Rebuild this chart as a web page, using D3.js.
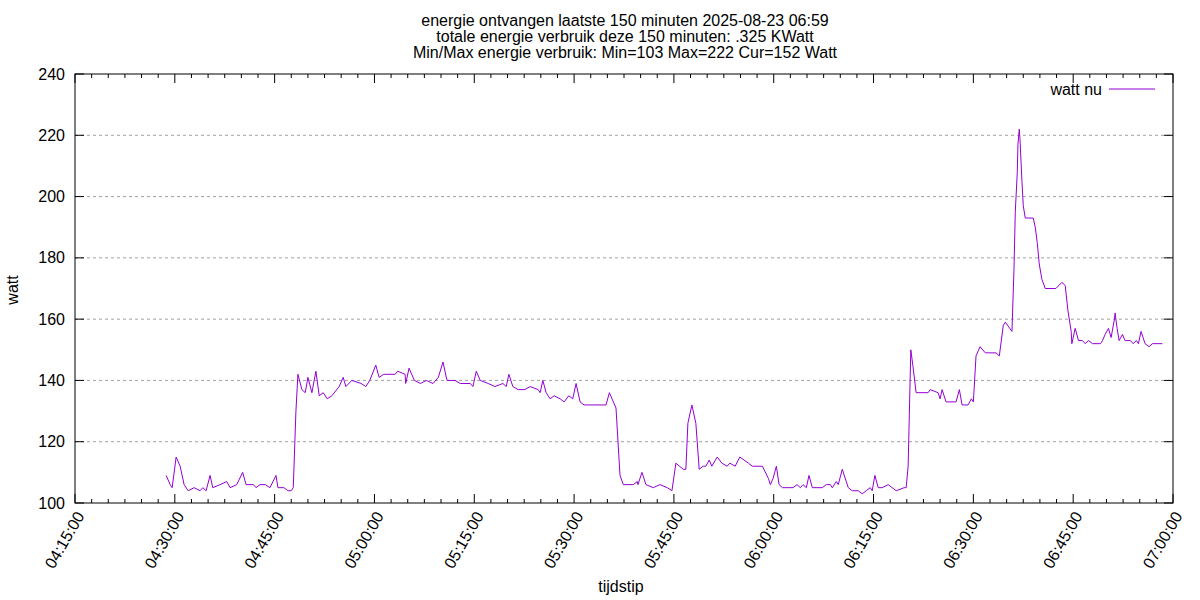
<!DOCTYPE html>
<html>
<head>
<meta charset="utf-8">
<script src="https://cdn.jsdelivr.net/npm/d3@7"></script>
<style>
  body { margin: 0; background: #fff; }
  text { font-family: "Liberation Sans", Arial, sans-serif; }
</style>
</head>
<body>
<div id="chart"></div>
<script>
// minutes after 04:15:00 and measured power in watt
const minutes = [13.7,14.3,14.6,15.2,15.8,16.4,17.0,17.9,18.8,19.2,19.7,20.3,20.7,21.8,22.8,23.3,24.3,25.2,25.7,26.8,27.2,27.8,28.6,29.3,30.2,30.5,31.4,32.0,32.5,32.8,33.2,33.5,34.1,34.6,35.0,35.6,36.2,36.7,37.3,37.9,38.6,39.7,40.3,40.7,41.6,43.0,43.7,44.3,45.2,45.7,46.4,48.1,48.5,49.6,49.7,50.2,51.0,51.9,52.8,53.8,54.6,55.3,55.9,57.1,57.9,59.4,59.8,60.3,60.9,62.1,63.1,64.3,64.8,65.2,65.8,66.6,67.6,68.4,69.6,69.9,70.3,70.8,71.4,72.0,72.9,73.5,74.2,74.8,75.3,75.9,76.5,79.8,80.3,81.3,81.9,82.4,83.9,84.5,84.6,85.2,85.8,86.9,87.9,89.0,89.7,90.3,91.4,91.8,92.1,92.7,93.3,93.8,94.4,94.8,95.3,95.7,96.5,97.2,98.0,98.4,99.2,99.9,101.2,101.8,103.3,104.2,104.5,104.9,105.4,105.8,106.3,107.9,108.5,109.0,109.4,109.9,110.3,110.8,112.3,112.9,113.5,113.8,114.4,114.7,115.3,115.9,116.2,116.8,117.7,118.3,118.9,119.5,119.8,120.2,120.7,121.3,122.2,123.4,124.6,124.9,125.2,125.6,125.9,126.4,128.2,128.5,129.7,130.0,130.3,130.9,132.4,132.9,133.3,134.2,134.7,135.0,135.4,136.0,136.8,138.4,138.9,139.5,139.8,140.8,141.1,141.3,141.6,141.7,141.9,142.0,142.3,142.5,142.8,144.0,144.3,144.6,144.9,145.3,145.8,147.4,148.3,148.8,149.2,149.7,149.8,150.3,150.8,151.4,151.8,152.3,152.9,154.1,154.4,154.8,155.3,155.7,156.2,156.3,156.6,156.9,157.4,157.8,158.6,159.0,159.5,159.8,160.2,160.8,161.4,161.9,163.4];
const watts = [109,106,105,115,112,106,104,105,104,105,104,109,105,106,107,105,106,110,106,106,105,106,106,105,109,105,105,104,104,105,130,142,137,136,141,136,143,135,136,134,135,138,141,138,140,139,138,140,145,141,142,142,143,142,139,144,140,139,140,139,141,146,140,140,139,139,138,143,140,139,138,139,138,142,138,137,137,138,137,136,140,136,134,135,134,133,135,134,139,133,132,132,136,131,109,106,106,107,106,110,106,105,106,105,104,113,111,111,126,132,126,111,112,112,114,112,115,113,112,113,112,115,113,112,112,108,106,108,112,106,105,105,106,105,106,105,109,105,105,106,106,105,107,106,111,107,105,104,104,103,104,105,104,109,105,105,106,104,105,105,112,150,145,136,136,137,136,134,137,133,133,137,132,132,134,133,148,151,149,149,148,158,159,156,176,195,208,217,222,219,205,197,193,193,190,185,178,173,170,170,172,171,163,156,152,157,153,153,152,153,152,152,153,155,157,154,160,162,157,153,155,153,153,152,153,152,156,152,151,152,152];
const xTickLabels = ["04:15:00","04:30:00","04:45:00","05:00:00","05:15:00","05:30:00","05:45:00","06:00:00","06:15:00","06:30:00","06:45:00","07:00:00"];
const yTicks = [100,120,140,160,180,200,220,240];
const titleLines = [
  "energie ontvangen laatste 150 minuten 2025-08-23 06:59",
  "totale energie verbruik deze 150 minuten: .325 KWatt",
  "Min/Max energie verbruik: Min=103 Max=222 Cur=152 Watt"
];

const margin = { top: 74, right: 27, bottom: 97, left: 75 },
  width = 1200 - margin.left - margin.right,
  height = 600 - margin.top - margin.bottom;

const root = d3.select("#chart").append("svg").attr("width", 1200).attr("height", 600);
const svg = root.append("g").attr("transform", `translate(${margin.left},${margin.top})`);

const x = d3.scaleLinear().domain([0, 165]).range([0, width]);
const y = d3.scaleLinear().domain([100, 240]).range([height, 0]);
const majorTicks = d3.range(0, 166, 15);
const minorTicks = d3.range(0, 165.1, 2.5).filter((d) => d % 15 !== 0);

// grid
svg.append("g").selectAll("line").data(yTicks.slice(1, -1)).join("line")
  .attr("x1", 0).attr("x2", width).attr("y1", (d) => y(d)).attr("y2", (d) => y(d))
  .attr("stroke", "#a0a0a0").attr("stroke-dasharray", "3,3");

// border
svg.append("rect").attr("width", width).attr("height", height)
  .attr("fill", "none").attr("stroke", "#000").attr("stroke-width", 1);

// y ticks both sides
const yt = svg.append("g");
yTicks.forEach((d) => {
  yt.append("line").attr("x1", 0).attr("x2", 9).attr("y1", y(d)).attr("y2", y(d)).attr("stroke", "#000");
  yt.append("line").attr("x1", width - 9).attr("x2", width).attr("y1", y(d)).attr("y2", y(d)).attr("stroke", "#000");
  yt.append("text").attr("x", -10).attr("y", y(d)).attr("dy", "0.35em")
    .attr("text-anchor", "end").attr("font-size", 16).text(d);
});

// x ticks bottom and top
const xt = svg.append("g");
majorTicks.forEach((d, i) => {
  xt.append("line").attr("x1", x(d)).attr("x2", x(d)).attr("y1", height).attr("y2", height - 9).attr("stroke", "#000");
  xt.append("line").attr("x1", x(d)).attr("x2", x(d)).attr("y1", 0).attr("y2", 9).attr("stroke", "#000");
  xt.append("text").attr("transform", `translate(${x(d) + 5},${height + 10}) rotate(-60)`)
    .attr("text-anchor", "end").attr("dy", "0.35em").attr("font-size", 16).text(xTickLabels[i]);
});
minorTicks.forEach((d) => {
  xt.append("line").attr("x1", x(d)).attr("x2", x(d)).attr("y1", height).attr("y2", height - 4).attr("stroke", "#000");
  xt.append("line").attr("x1", x(d)).attr("x2", x(d)).attr("y1", 0).attr("y2", 4).attr("stroke", "#000");
});

// series
const pts = minutes.map((m, i) => [m, watts[i]]);
svg.append("path").datum(pts)
  .attr("fill", "none").attr("stroke", "#9400d3").attr("stroke-width", 1)
  .attr("d", d3.line().x((d) => x(d[0])).y((d) => y(d[1])));

// legend
svg.append("text").attr("x", width - 71).attr("y", 15).attr("dy", "0.35em")
  .attr("text-anchor", "end").attr("font-size", 16).text("watt nu");
svg.append("line").attr("x1", width - 64).attr("x2", width - 18).attr("y1", 15).attr("y2", 15)
  .attr("stroke", "#9400d3");

// titles & labels
root.append("g").selectAll("text").data(titleLines).join("text")
  .attr("x", 625).attr("y", (d, i) => 26 + i * 16).attr("text-anchor", "middle")
  .attr("font-size", 16).text((d) => d);
root.append("text").attr("transform", "translate(18,290) rotate(-90)")
  .attr("text-anchor", "middle").attr("font-size", 16).text("watt");
root.append("text").attr("x", 621).attr("y", 592).attr("text-anchor", "middle")
  .attr("font-size", 16).text("tijdstip");
</script>
</body>
</html>
